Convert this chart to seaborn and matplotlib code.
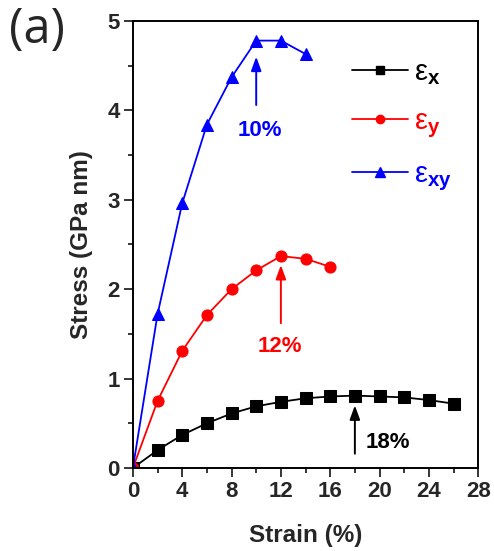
import matplotlib
matplotlib.use("Agg")
import matplotlib.pyplot as plt
from matplotlib.lines import Line2D
from matplotlib.ticker import MultipleLocator
import numpy as np
import pandas as pd
import seaborn as sns

# Stress-strain data for the three loading directions
strain_x = [0, 2, 4, 6, 8, 10, 12, 14, 16, 18, 20, 22, 24, 26]
stress_x = [0, 0.20, 0.37, 0.50, 0.61, 0.69, 0.74, 0.78, 0.80, 0.81, 0.80, 0.79, 0.76, 0.72]

strain_y = [0, 2, 4, 6, 8, 10, 12, 14, 16]
stress_y = [0, 0.75, 1.31, 1.71, 2.00, 2.21, 2.37, 2.34, 2.25]

strain_xy = [0, 2, 4, 6, 8, 10, 12, 14]
stress_xy = [0, 1.72, 2.96, 3.84, 4.37, 4.78, 4.78, 4.63]

series_labels = ["ε$_{\\mathbf{x}}$", "ε$_{\\mathbf{y}}$", "ε$_{\\mathbf{xy}}$"]
series_colors = ["#000000", "#FF0000", "#0000FF"]
series_markers = ["s", "o", "^"]
marker_sizes = [8, 8, 9]

# Peak (ultimate) strain annotations
peak_labels = ["18%", "12%", "10%"]
peak_strain = [18, 12, 10]

sns.set_theme(style="ticks")
plt.rcParams["font.family"] = ["Liberation Sans", "DejaVu Sans"]
plt.rcParams["mathtext.fontset"] = "custom"
plt.rcParams["mathtext.rm"] = "Liberation Sans"
plt.rcParams["mathtext.bf"] = "Liberation Sans:bold"
plt.rcParams["mathtext.it"] = "Liberation Sans:italic"

fig = plt.figure(figsize=(4.94, 5.51), dpi=100)
ax = fig.add_axes([0.269, 0.1506, 0.699, 0.8114])

frames = [
    pd.DataFrame({"strain": strain_x, "stress": stress_x}),
    pd.DataFrame({"strain": strain_y, "stress": stress_y}),
    pd.DataFrame({"strain": strain_xy, "stress": stress_xy}),
]
for df, c, m, ms in zip(frames, series_colors, series_markers, marker_sizes):
    sns.lineplot(data=df, x="strain", y="stress", ax=ax, color=c, marker=m,
                 markersize=ms, markeredgecolor=c, linewidth=1.3, legend=False)

# Arrows marking the strain at peak stress: (series, tail y, tip y, text x, text y, align)
arrow_specs = [
    (0, 0.16, 0.70, 18.9, 0.29, "left"),
    (1, 1.62, 2.27, 11.9, 1.36, "center"),
    (2, 4.06, 4.60, 10.3, 3.77, "center"),
]
for idx, y0, y1, tx, ty, ha in arrow_specs:
    c = series_colors[idx]
    xs = peak_strain[idx]
    ax.annotate("", xy=(xs, y1), xytext=(xs, y0),
                arrowprops=dict(arrowstyle="-|>,head_length=0.6,head_width=0.22",
                                color=c, lw=1.4, mutation_scale=14,
                                shrinkA=0, shrinkB=0))
    ax.text(tx, ty, peak_labels[idx], color=c, fontsize=16, fontweight="bold",
            ha=ha, va="center")

ax.set_xlim(0, 28)
ax.set_ylim(0, 5)
ax.xaxis.set_major_locator(MultipleLocator(4))
ax.xaxis.set_minor_locator(MultipleLocator(2))
ax.yaxis.set_major_locator(MultipleLocator(1))
ax.yaxis.set_minor_locator(MultipleLocator(0.5))
ax.tick_params(which="major", direction="out", length=6.5, width=1.3,
               labelsize=16, top=False, right=False, pad=3)
ax.tick_params(which="minor", direction="out", length=3.5, width=1.3,
               top=False, right=False)
for lbl in ax.get_xticklabels() + ax.get_yticklabels():
    lbl.set_fontweight("bold")
for sp in ax.spines.values():
    sp.set_linewidth(1.4)
    sp.set_color("#000000")
    sp.set_visible(True)

ax.set_xlabel("Strain (%)", fontsize=17.5, fontweight="bold", labelpad=16)
ax.set_ylabel("Stress (GPa nm)", fontsize=17.5, fontweight="bold", labelpad=10)

handles = [Line2D([], [], color=c, marker=m, markersize=ms - 2, linewidth=1.3)
           for c, m, ms in zip(series_colors, series_markers, marker_sizes)]
leg = ax.legend(handles, series_labels, loc="upper right", bbox_to_anchor=(0.975, 0.955),
                frameon=False, fontsize=21, handlelength=1.95, handletextpad=0.2,
                labelspacing=0.68, borderaxespad=0.2)
for txt, c in zip(leg.get_texts(), series_colors):
    txt.set_color(c)

fig.text(0.018, 0.99, "(a)", fontsize=35, ha="left", va="top",
         family=["Open Sans", "DejaVu Sans"])

fig.savefig("out.png", dpi=100)
